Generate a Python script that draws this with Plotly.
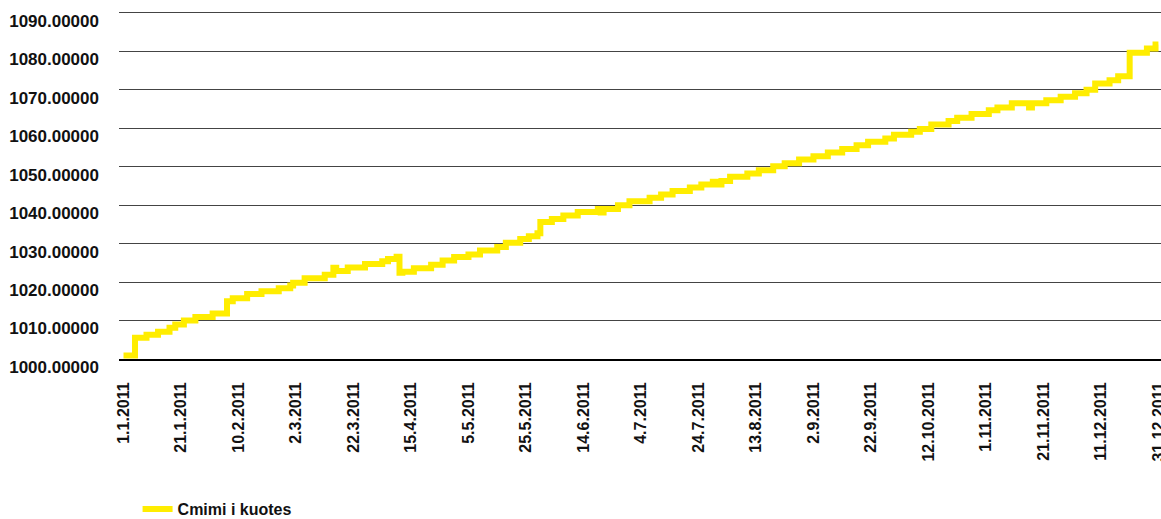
import pandas as pd
import plotly.graph_objects as go

# Daily quote calendar for 2011; no quotes were published on these days
YEAR_START = "2011-01-01"
YEAR_END = "2011-12-31"
NO_QUOTE_DAYS = ["1.4.2011", "2.4.2011", "3.4.2011", "4.4.2011"]

# Dates on which the unit price changed, and the price from that date on
price_dates = [
    "1.1.2011", "5.1.2011", "9.1.2011", "13.1.2011", "17.1.2011", "19.1.2011",
    "22.1.2011", "26.1.2011", "1.2.2011", "6.2.2011", "8.2.2011", "13.2.2011",
    "18.2.2011", "24.2.2011", "28.2.2011", "1.3.2011", "5.3.2011", "12.3.2011",
    "15.3.2011", "16.3.2011", "20.3.2011", "26.3.2011", "5.4.2011", "7.4.2011",
    "10.4.2011", "11.4.2011", "12.4.2011", "16.4.2011", "22.4.2011", "26.4.2011",
    "30.4.2011", "5.5.2011", "9.5.2011", "15.5.2011", "18.5.2011", "23.5.2011",
    "26.5.2011", "29.5.2011", "30.5.2011", "3.6.2011", "7.6.2011", "12.6.2011",
    "19.6.2011", "20.6.2011", "21.6.2011", "26.6.2011", "30.6.2011", "7.7.2011",
    "11.7.2011", "15.7.2011", "21.7.2011", "25.7.2011", "29.7.2011", "31.7.2011",
    "1.8.2011", "4.8.2011", "10.8.2011", "14.8.2011", "19.8.2011", "23.8.2011",
    "28.8.2011", "2.9.2011", "7.9.2011", "12.9.2011", "17.9.2011", "21.9.2011",
    "27.9.2011", "30.9.2011", "6.10.2011", "9.10.2011", "13.10.2011", "19.10.2011",
    "22.10.2011", "27.10.2011", "2.11.2011", "5.11.2011", "10.11.2011", "16.11.2011",
    "17.11.2011", "22.11.2011", "27.11.2011", "2.12.2011", "6.12.2011", "9.12.2011",
    "14.12.2011", "17.12.2011", "21.12.2011", "27.12.2011", "30.12.2011", "31.12.2011",
]
price_values = [
    1000.9, 1005.5, 1006.3, 1007.1, 1008.1, 1009.0,
    1010.0, 1010.9, 1011.8, 1015.0, 1015.8, 1016.9,
    1017.6, 1018.4, 1019.1, 1019.8, 1021.0, 1021.9,
    1023.7, 1022.9, 1023.8, 1024.7, 1025.4, 1026.0,
    1026.6, 1022.4, 1022.7, 1023.6, 1024.5, 1025.6,
    1026.5, 1027.2, 1028.2, 1029.1, 1030.2, 1031.2,
    1031.9, 1032.7, 1035.6, 1036.4, 1037.3, 1038.2,
    1039.0, 1038.1, 1039.0, 1040.0, 1041.0, 1041.9,
    1042.8, 1043.7, 1044.6, 1045.4, 1046.1, 1045.4,
    1046.3, 1047.4, 1048.2, 1049.1, 1050.1, 1050.9,
    1051.9, 1052.7, 1053.7, 1054.6, 1055.6, 1056.5,
    1057.3, 1058.3, 1059.1, 1059.8, 1061.0, 1061.9,
    1062.7, 1063.7, 1064.7, 1065.4, 1066.5, 1065.4,
    1066.5, 1067.3, 1068.2, 1069.1, 1070.0, 1071.6,
    1072.5, 1073.5, 1079.6, 1080.7, 1081.8, 1081.8,
]

tick_labels = [
    "1.1.2011", "21.1.2011", "10.2.2011", "2.3.2011", "22.3.2011", "15.4.2011",
    "5.5.2011", "25.5.2011", "14.6.2011", "4.7.2011", "24.7.2011", "13.8.2011",
    "2.9.2011", "22.9.2011", "12.10.2011", "1.11.2011", "21.11.2011", "11.12.2011",
    "31.12.2011",
]

SERIES_NAME = "Cmimi i kuotes"
LINE_COLOR = "#FFED00"
TEXT_COLOR = "#111111"
FONT = "Liberation Sans"


def dmy(ts):
    return f"{ts.day}.{ts.month}.{ts.year}"


calendar = [dmy(d) for d in pd.date_range(YEAR_START, YEAR_END, freq="D")]
categories = [d for d in calendar if d not in NO_QUOTE_DAYS]

fig = go.Figure()
fig.add_trace(
    go.Scatter(
        x=price_dates,
        y=price_values,
        mode="lines",
        name=SERIES_NAME,
        line=dict(color=LINE_COLOR, width=6, shape="hv"),
        showlegend=True,
    )
)

fig.update_layout(
    width=1161,
    height=519,
    margin=dict(l=119, r=0, t=9, b=160, autoexpand=False),
    paper_bgcolor="white",
    plot_bgcolor="white",
    showlegend=True,
    legend=dict(
        orientation="h",
        xref="container",
        yref="container",
        x=0.1185,
        xanchor="left",
        y=0.019,
        yanchor="middle",
        font=dict(family=FONT, size=16, color=TEXT_COLOR, weight="bold"),
        bgcolor="rgba(0,0,0,0)",
    ),
    xaxis=dict(
        type="category",
        categoryorder="array",
        categoryarray=categories,
        range=[-1.57, 360.9],
        tickmode="array",
        tickvals=tick_labels,
        ticktext=tick_labels,
        tickangle=-90,
        ticks="",
        ticklabelstandoff=15,
        tickfont=dict(family=FONT, size=16, color=TEXT_COLOR, weight="bold"),
        showgrid=False,
        showline=True,
        linecolor="#000000",
        linewidth=2,
        zeroline=False,
        fixedrange=True,
    ),
    yaxis=dict(
        range=[1000, 1091],
        dtick=10,
        tick0=1000,
        tickformat=".5f",
        ticks="",
        ticklabelstandoff=19,
        ticklabelshift=8,
        tickfont=dict(family=FONT, size=17, color=TEXT_COLOR, weight="bold"),
        showgrid=True,
        gridcolor="#444444",
        gridwidth=1,
        showline=False,
        zeroline=False,
        fixedrange=True,
    ),
)

fig.write_html("out.html")
